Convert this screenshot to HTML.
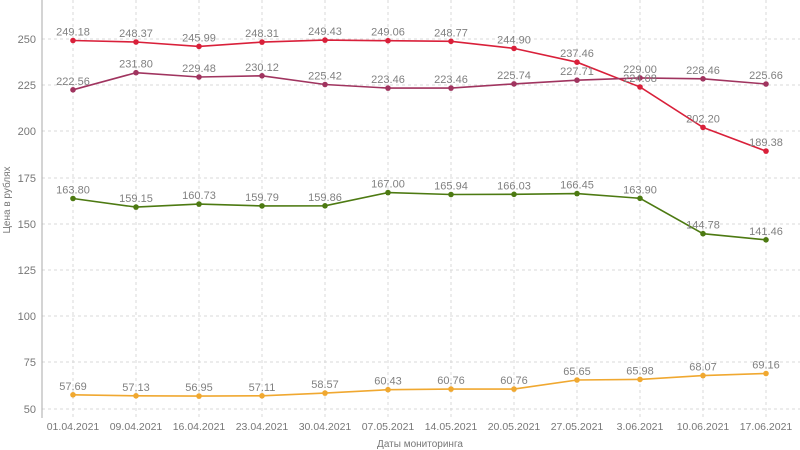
<!DOCTYPE html>
<html><head><meta charset="utf-8"><style>
body{margin:0;background:#fff;}
svg{display:block;font-family:"Liberation Sans",sans-serif;}
</style></head><body>
<svg width="800" height="450" viewBox="0 0 800 450" xmlns="http://www.w3.org/2000/svg">
<g stroke="#d8d8d8" stroke-dasharray="3,3" stroke-width="1">
<line x1="42" y1="39" x2="800" y2="39"/><line x1="42" y1="85" x2="800" y2="85"/>
<line x1="42" y1="131" x2="800" y2="131"/><line x1="42" y1="178" x2="800" y2="178"/>
<line x1="42" y1="224" x2="800" y2="224"/><line x1="42" y1="270" x2="800" y2="270"/>
<line x1="42" y1="316" x2="800" y2="316"/><line x1="42" y1="362" x2="800" y2="362"/>
<line x1="42" y1="409" x2="800" y2="409"/>
<line x1="73" y1="0" x2="73" y2="418"/><line x1="136" y1="0" x2="136" y2="418"/>
<line x1="199" y1="0" x2="199" y2="418"/><line x1="262" y1="0" x2="262" y2="418"/>
<line x1="325" y1="0" x2="325" y2="418"/><line x1="388" y1="0" x2="388" y2="418"/>
<line x1="451" y1="0" x2="451" y2="418"/><line x1="514" y1="0" x2="514" y2="418"/>
<line x1="577" y1="0" x2="577" y2="418"/><line x1="640" y1="0" x2="640" y2="418"/>
<line x1="703" y1="0" x2="703" y2="418"/><line x1="766" y1="0" x2="766" y2="418"/>
</g>
<line x1="42" y1="0" x2="42" y2="418" stroke="#aaa"/>
<g fill="#777" font-size="11" text-anchor="end">
<text x="36" y="43">250</text><text x="36" y="89">225</text><text x="36" y="135">200</text>
<text x="36" y="182">175</text><text x="36" y="228">150</text><text x="36" y="274">125</text>
<text x="36" y="320">100</text><text x="36" y="366">75</text><text x="36" y="413">50</text>
</g>
<g fill="#777" font-size="10.5" text-anchor="middle">
<text x="73" y="430">01.04.2021</text><text x="136" y="430">09.04.2021</text><text x="199" y="430">16.04.2021</text>
<text x="262" y="430">23.04.2021</text><text x="325" y="430">30.04.2021</text><text x="388" y="430">07.05.2021</text>
<text x="451" y="430">14.05.2021</text><text x="514" y="430">20.05.2021</text><text x="577" y="430">27.05.2021</text>
<text x="640" y="430">3.06.2021</text><text x="703" y="430">10.06.2021</text><text x="766" y="430">17.06.2021</text>
<text x="420" y="447" font-size="10">Даты мониторинга</text>
<text transform="translate(10,200) rotate(-90)" font-size="10">Цена в рублях</text>
</g>

<polyline fill="none" stroke="#d9203a" stroke-width="1.6" points="73,40.5 136,42 199,46.4 262,42.1 325,40.1 388,40.7 451,41.3 514,48.4 577,62.2 640,87 703,127.4 766,151.1"/>
<polyline fill="none" stroke="#a0345f" stroke-width="1.6" points="73,89.8 136,72.7 199,77 262,75.8 325,84.5 388,88.1 451,88.1 514,83.9 577,80.2 640,77.9 703,78.8 766,84"/>
<polyline fill="none" stroke="#4d7a12" stroke-width="1.6" points="73,198.5 136,207.1 199,204.1 262,205.9 325,205.8 388,192.6 451,194.5 514,194.3 577,193.6 640,198.3 703,233.7 766,239.8"/>
<polyline fill="none" stroke="#f0a830" stroke-width="1.6" points="73,394.8 136,395.8 199,396.1 262,395.8 325,393.1 388,389.7 451,389.1 514,389.1 577,380 640,379.4 703,375.6 766,373.5"/>

<g fill="#d9203a">
<circle cx="73" cy="40.5" r="2.8"/><circle cx="136" cy="42" r="2.8"/><circle cx="199" cy="46.4" r="2.8"/><circle cx="262" cy="42.1" r="2.8"/><circle cx="325" cy="40.1" r="2.8"/><circle cx="388" cy="40.7" r="2.8"/><circle cx="451" cy="41.3" r="2.8"/><circle cx="514" cy="48.4" r="2.8"/><circle cx="577" cy="62.2" r="2.8"/><circle cx="640" cy="87" r="2.8"/><circle cx="703" cy="127.4" r="2.8"/><circle cx="766" cy="151.1" r="2.8"/>
</g>
<g fill="#a0345f">
<circle cx="73" cy="89.8" r="2.8"/><circle cx="136" cy="72.7" r="2.8"/><circle cx="199" cy="77" r="2.8"/><circle cx="262" cy="75.8" r="2.8"/><circle cx="325" cy="84.5" r="2.8"/><circle cx="388" cy="88.1" r="2.8"/><circle cx="451" cy="88.1" r="2.8"/><circle cx="514" cy="83.9" r="2.8"/><circle cx="577" cy="80.2" r="2.8"/><circle cx="640" cy="77.9" r="2.8"/><circle cx="703" cy="78.8" r="2.8"/><circle cx="766" cy="84" r="2.8"/>
</g>
<g fill="#4d7a12">
<circle cx="73" cy="198.5" r="2.8"/><circle cx="136" cy="207.1" r="2.8"/><circle cx="199" cy="204.1" r="2.8"/><circle cx="262" cy="205.9" r="2.8"/><circle cx="325" cy="205.8" r="2.8"/><circle cx="388" cy="192.6" r="2.8"/><circle cx="451" cy="194.5" r="2.8"/><circle cx="514" cy="194.3" r="2.8"/><circle cx="577" cy="193.6" r="2.8"/><circle cx="640" cy="198.3" r="2.8"/><circle cx="703" cy="233.7" r="2.8"/><circle cx="766" cy="239.8" r="2.8"/>
</g>
<g fill="#f0a830">
<circle cx="73" cy="394.8" r="2.8"/><circle cx="136" cy="395.8" r="2.8"/><circle cx="199" cy="396.1" r="2.8"/><circle cx="262" cy="395.8" r="2.8"/><circle cx="325" cy="393.1" r="2.8"/><circle cx="388" cy="389.7" r="2.8"/><circle cx="451" cy="389.1" r="2.8"/><circle cx="514" cy="389.1" r="2.8"/><circle cx="577" cy="380" r="2.8"/><circle cx="640" cy="379.4" r="2.8"/><circle cx="703" cy="375.6" r="2.8"/><circle cx="766" cy="373.5" r="2.8"/>
</g>

<g fill="#808080" font-size="11" text-anchor="middle">
<text x="73" y="35.5">249.18</text><text x="136" y="37">248.37</text><text x="199" y="41.4">245.99</text><text x="262" y="37.1">248.31</text><text x="325" y="35.1">249.43</text><text x="388" y="35.7">249.06</text><text x="451" y="36.3">248.77</text><text x="514" y="43.4">244.90</text><text x="577" y="57.2">237.46</text><text x="640" y="82">224.08</text><text x="703" y="122.4">202.20</text><text x="766" y="146.1">189.38</text>
<text x="73" y="84.8">222.56</text><text x="136" y="67.7">231.80</text><text x="199" y="72">229.48</text><text x="262" y="70.8">230.12</text><text x="325" y="79.5">225.42</text><text x="388" y="83.1">223.46</text><text x="451" y="83.1">223.46</text><text x="514" y="78.9">225.74</text><text x="577" y="75.2">227.71</text><text x="640" y="72.9">229.00</text><text x="703" y="73.8">228.46</text><text x="766" y="79">225.66</text>
<text x="73" y="193.5">163.80</text><text x="136" y="202.1">159.15</text><text x="199" y="199.1">160.73</text><text x="262" y="200.9">159.79</text><text x="325" y="200.8">159.86</text><text x="388" y="187.6">167.00</text><text x="451" y="189.5">165.94</text><text x="514" y="189.3">166.03</text><text x="577" y="188.6">166.45</text><text x="640" y="193.3">163.90</text><text x="703" y="228.7">144.78</text><text x="766" y="234.8">141.46</text>
<text x="73" y="389.8">57.69</text><text x="136" y="390.8">57.13</text><text x="199" y="391.1">56.95</text><text x="262" y="390.8">57.11</text><text x="325" y="388.1">58.57</text><text x="388" y="384.7">60.43</text><text x="451" y="384.1">60.76</text><text x="514" y="384.1">60.76</text><text x="577" y="375">65.65</text><text x="640" y="374.4">65.98</text><text x="703" y="370.6">68.07</text><text x="766" y="368.5">69.16</text>
</g>
</svg>
</body></html>
